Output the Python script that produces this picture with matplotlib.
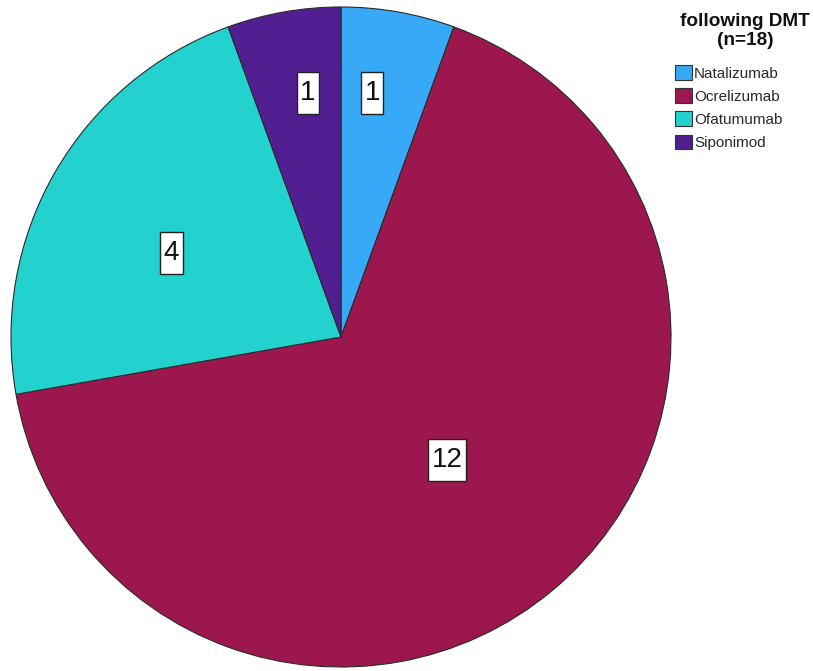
import matplotlib
matplotlib.use("Agg")
import matplotlib.pyplot as plt
from matplotlib.patches import Rectangle
import numpy as np

plt.rcParams['font.family'] = ['Liberation Sans', 'DejaVu Sans']

categories = ["Natalizumab", "Ocrelizumab", "Ofatumumab", "Siponimod"]
counts = [1, 12, 4, 1]
colors = ["#38A9F7", "#9C174D", "#23D2CF", "#521F93"]
# label placement inside each wedge: radius (fraction of pie radius) and angle nudge (deg)
label_radius = [0.745, 0.493, 0.573, 0.745]
label_shift = [2.7, 0.8, 3.7, -2.3]

W, H = 813, 671
fig = plt.figure(figsize=(W / 100, H / 100), dpi=100)
cx, cy, r = 341, 337, 331
ax = fig.add_axes([(cx - r) / W, (H - cy - r) / H, 2 * r / W, 2 * r / H])

wedges, _ = ax.pie(counts, colors=colors, startangle=90, counterclock=False,
                   radius=1.0,
                   wedgeprops=dict(edgecolor="#2a2a2a", linewidth=0.8))
ax.set_xlim(-1.003, 1.003)
ax.set_ylim(-1.003, 1.003)
ax.set_aspect("equal")
ax.axis("off")

labels = []
for w, n, lr, sh in zip(wedges, counts, label_radius, label_shift):
    ang = np.deg2rad((w.theta1 + w.theta2) / 2 + sh)
    t = ax.text(lr * np.cos(ang), lr * np.sin(ang), str(n), ha="center", va="center",
                fontsize=20, family=['Liberation Sans Narrow', 'Liberation Sans'],
                color="#111111", zorder=5)
    labels.append(t)

# white label boxes, padded more vertically than horizontally
fig.canvas.draw()
renderer = fig.canvas.get_renderer()
to_fig = fig.transFigure.inverted()
for t in labels:
    bb = t.get_window_extent(renderer)
    xc, yc = (bb.x0 + bb.x1) / 2, (bb.y0 + bb.y1) / 2
    bw, bh = bb.width + 7, 42
    (fx0, fy0) = to_fig.transform((xc - bw / 2, yc - bh / 2))
    (fx1, fy1) = to_fig.transform((xc + bw / 2, yc + bh / 2))
    fig.add_artist(Rectangle((fx0, fy0), fx1 - fx0, fy1 - fy0, transform=fig.transFigure,
                             facecolor="white", edgecolor="#222222", linewidth=1.0,
                             zorder=4))
    t.remove()
    fig.text((fx0 + fx1) / 2, (fy0 + fy1) / 2, t.get_text(), ha="center", va="center",
             fontsize=20, family=['Liberation Sans Narrow', 'Liberation Sans'],
             color="#111111", zorder=5)

fig.text(745 / W, 1 - 31 / H, "following DMT\n(n=18)", ha="center", va="center",
         fontsize=13.7, fontweight="bold", linespacing=1.1, color="#111111")

handles = [plt.Rectangle((0, 0), 1, 1, facecolor=c, edgecolor="#333333", linewidth=0.8)
           for c in colors]
leg = fig.legend(handles, categories, loc="upper left",
                 bbox_to_anchor=(675 / W, 1 - 65 / H), frameon=False,
                 fontsize=11, handlelength=1.1, handleheight=1.1,
                 handletextpad=0.15, labelspacing=0.5, borderaxespad=0,
                 borderpad=0)
for t in leg.get_texts():
    t.set_color("#2a2a2a")

fig.savefig("out.png", dpi=100, facecolor="white")
